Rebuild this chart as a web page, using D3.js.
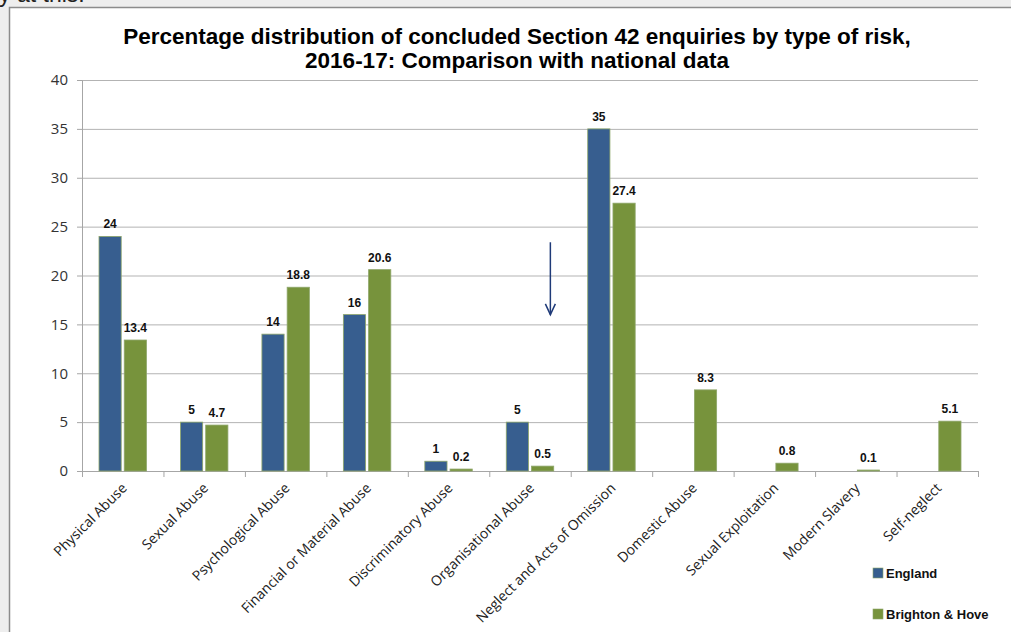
<!DOCTYPE html>
<html lang="en">
  <head>
    <meta charset="UTF-8" />
    <script src="https://d3js.org/d3.v7.min.js"></script>
    <title>Section 42 enquiries</title>
    <style>
      body { margin: 0; background: #eeeeee; }
    </style>
  </head>
  <body>
    <div id="chart"></div>
    <script>
      // data
      const categories = [
        "Physical Abuse",
        "Sexual Abuse",
        "Psychological Abuse",
        "Financial or Material Abuse",
        "Discriminatory Abuse",
        "Organisational Abuse",
        "Neglect and Acts of Omission",
        "Domestic Abuse",
        "Sexual Exploitation",
        "Modern Slavery",
        "Self-neglect",
      ];
      const england = [24, 5, 14, 16, 1, 5, 35, null, null, null, null];
      const brighton = [13.4, 4.7, 18.8, 20.6, 0.2, 0.5, 27.4, 8.3, 0.8, 0.1, 5.1];
      const seriesNames = ["England", "Brighton & Hove"];
      const seriesColors = ["#375e8f", "#77933c"];
      const yTicks = [0, 5, 10, 15, 20, 25, 30, 35, 40];

      const W = 1011, H = 632;
      const margin = { top: 80, left: 82, right: 33, bottom: 161 };
      const width = W - margin.left - margin.right,
        height = H - margin.top - margin.bottom;

      const root = d3.select("#chart").append("svg")
        .attr("width", W).attr("height", H)
        .style("display", "block");

      // text of the page above, cut off by the crop
      root.append("text")
        .attr("x", -6).attr("y", 2)
        .style("font-family", "Liberation Sans, Arial, sans-serif")
        .style("font-size", "23px")
        .style("fill", "#222")
        .text("ly at this:");

      // chart frame
      root.append("rect")
        .attr("x", 9.5).attr("y", 7.5)
        .attr("width", W + 10).attr("height", H + 10)
        .attr("fill", "#fff")
        .attr("stroke", "#8c8c8c")
        .attr("stroke-width", 1.5);

      // title
      const title = root.append("text")
        .attr("text-anchor", "middle")
        .style("font-family", "Liberation Sans, Arial, sans-serif")
        .style("font-weight", "bold")
        .style("font-size", "22.5px")
        .style("fill", "#000");
      title.append("tspan").attr("x", 517).attr("y", 44)
        .text("Percentage distribution of concluded Section 42 enquiries by type of risk,");
      title.append("tspan").attr("x", 517).attr("y", 68)
        .text("2016-17: Comparison with national data");

      const svg = root.append("g")
        .attr("transform", `translate(${margin.left}, ${margin.top})`);

      const x = d3.scaleBand().domain(categories).range([0, width]).paddingInner(0).paddingOuter(0);
      const x1 = d3.scaleBand().domain(seriesNames)
        .range([17, x.bandwidth() - 17]).paddingInner(0.12);
      const y = d3.scaleLinear().domain([0, 40]).range([height, 0]);

      // gridlines
      svg.append("g")
        .selectAll("line")
        .data(yTicks.filter((d) => d > 0))
        .join("line")
        .attr("x1", 0).attr("x2", width)
        .attr("y1", (d) => y(d) + 0.5).attr("y2", (d) => y(d) + 0.5)
        .attr("stroke", "#b3b3b3");

      // y axis
      const yAxis = svg.append("g")
        .call(d3.axisLeft(y).tickValues(yTicks).tickSize(5).tickPadding(9));
      yAxis.select(".domain").attr("stroke", "#a6a6a6");
      yAxis.selectAll(".tick line").attr("stroke", "#a6a6a6");
      yAxis.selectAll("text")
        .style("font-family", "Open Sans, sans-serif")
        .style("font-size", "15px")
        .style("fill", "#333");

      // x axis with ticks at category edges
      const xAxis = svg.append("g").attr("transform", `translate(0, ${height})`);
      xAxis.append("line")
        .attr("x1", 0).attr("x2", width)
        .attr("y1", 0.5).attr("y2", 0.5)
        .attr("stroke", "#a6a6a6");
      xAxis.selectAll(".edge")
        .data(categories.concat(["end"]))
        .join("line")
        .attr("class", "edge")
        .attr("x1", (d, i) => i * x.bandwidth() + 0.5)
        .attr("x2", (d, i) => i * x.bandwidth() + 0.5)
        .attr("y1", 0).attr("y2", 6)
        .attr("stroke", "#a6a6a6");
      xAxis.selectAll(".lbl")
        .data(categories)
        .join("text")
        .attr("class", "lbl")
        .attr("text-anchor", "end")
        .attr("transform", (d) => `translate(${x(d) + x.bandwidth() / 2 + 5}, 18) rotate(-45)`)
        .style("font-family", "Open Sans, sans-serif")
        .style("font-size", "14px")
        .style("fill", "#222")
        .text((d) => d);

      // bars
      const rows = [];
      categories.forEach((c, i) => {
        rows.push({ cat: c, s: seriesNames[0], v: england[i], color: seriesColors[0] });
        rows.push({ cat: c, s: seriesNames[1], v: brighton[i], color: seriesColors[1] });
      });
      const present = rows.filter((d) => d.v !== null);

      svg.append("g")
        .selectAll("rect")
        .data(present)
        .join("rect")
        .attr("x", (d) => x(d.cat) + x1(d.s))
        .attr("y", (d) => y(d.v))
        .attr("width", x1.bandwidth())
        .attr("height", (d) => y(0) - y(d.v))
        .attr("fill", (d) => d.color)
        .attr("stroke", "#8ea66a")
        .attr("stroke-width", 0.8);

      svg.append("g")
        .selectAll("text")
        .data(present)
        .join("text")
        .attr("x", (d) => x(d.cat) + x1(d.s) + x1.bandwidth() / 2)
        .attr("y", (d) => y(d.v) - 8)
        .attr("text-anchor", "middle")
        .style("font-family", "Liberation Sans, Arial, sans-serif")
        .style("font-weight", "bold")
        .style("font-size", "12px")
        .style("fill", "#111")
        .text((d) => d.v);

      // arrow annotation
      const arrowX = x(categories[5]) + x.bandwidth() * 0.75;
      const arrow = svg.append("g")
        .attr("stroke", "#1f3a78")
        .attr("stroke-width", 1.5)
        .attr("fill", "none");
      arrow.append("line")
        .attr("x1", arrowX).attr("x2", arrowX)
        .attr("y1", y(23.4)).attr("y2", y(16.0));
      arrow.append("path")
        .attr("d", `M${arrowX - 5},${y(17.1)} L${arrowX},${y(16.0)} L${arrowX + 5},${y(17.1)}`);

      // legend
      const legend = root.append("g")
        .selectAll("g")
        .data(seriesNames)
        .join("g")
        .attr("transform", (d, i) => `translate(873, ${568 + i * 41})`);
      legend.append("rect")
        .attr("width", 10).attr("height", 10)
        .attr("fill", (d, i) => seriesColors[i])
        .attr("stroke", "#8ea66a")
        .attr("stroke-width", 0.6);
      legend.append("text")
        .attr("x", 13).attr("y", 10)
        .style("font-family", "Liberation Sans, Arial, sans-serif")
        .style("font-weight", "bold")
        .style("font-size", "13px")
        .style("fill", "#111")
        .text((d) => d);
    </script>
  </body>
</html>
